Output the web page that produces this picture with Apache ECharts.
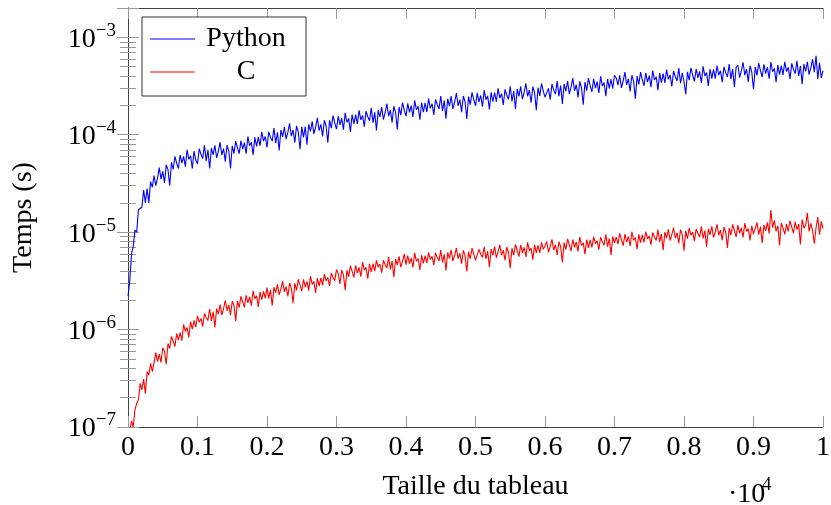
<!DOCTYPE html>
<html>
<head>
<meta charset="utf-8">
<script src="https://cdn.jsdelivr.net/npm/echarts@6/dist/echarts.min.js"></script>
<style>
    html, body { margin: 0; padding: 0; background: #fff; }
    #chart { width: 831px; height: 505px; }
</style>
</head>
<body>
<div id="chart"></div>
<script>
// pas entre deux tailles de tableau mesurees
var PAS = 25;

// temps mesures, en microsecondes (un point tous les PAS elements, de 0 a 10000)
var pythonUs = [2.2, 3.1, 6.0, 7.1, 10.5, 10, 17, 17.5, 18, 27,
    20, 28, 20, 33, 29, 38, 30, 36, 46, 35,
    42, 32, 49, 44, 30, 52, 44, 60, 51, 45,
    62, 51, 60, 47, 70, 56, 61, 45, 68, 55,
    50, 72, 63, 57, 78, 54, 70, 45, 73, 62,
    78, 58, 68, 84, 62, 72, 53, 78, 68, 45,
    77, 64, 86, 73, 64, 87, 71, 83, 64, 96,
    77, 84, 62, 94, 76, 95, 77, 107, 86, 96,
    74, 107, 94, 86, 117, 82, 106, 69, 112, 95,
    120, 90, 106, 131, 97, 112, 83, 123, 107, 71,
    121, 94, 121, 79, 128, 108, 137, 102, 120, 149,
    110, 128, 96, 141, 123, 83, 141, 117, 157, 132,
    114, 155, 126, 148, 113, 168, 134, 147, 107, 161,
    129, 161, 129, 178, 142, 158, 121, 175, 153, 139,
    189, 133, 170, 111, 179, 152, 192, 143, 169, 209,
    155, 179, 133, 196, 170, 113, 193, 159, 214, 179,
    155, 210, 170, 199, 152, 225, 180, 196, 143, 214,
    171, 212, 171, 235, 187, 208, 160, 231, 203, 184,
    250, 175, 224, 146, 234, 197, 249, 184, 217, 268,
    198, 229, 170, 250, 217, 145, 246, 203, 272, 229,
    198, 269, 217, 253, 194, 287, 229, 250, 182, 273,
    218, 271, 218, 299, 238, 264, 202, 292, 256, 231,
    315, 220, 281, 183, 295, 248, 313, 232, 273, 336,
    248, 287, 213, 312, 270, 179, 305, 251, 336, 281,
    243, 269, 299, 229, 331, 289, 261, 356, 249, 319,
    207, 333, 281, 355, 263, 310, 381, 282, 326, 241,
    353, 305, 203, 346, 284, 381, 319, 276, 374, 301,
    351, 268, 397, 316, 344, 249, 374, 299, 371, 298,
    408, 383, 323, 408, 303, 357, 439, 325, 376, 278,
    408, 353, 235, 400, 329, 440, 369, 318, 432, 347,
    405, 308, 457, 364, 395, 286, 429, 342, 424, 341,
    466, 370, 410, 313, 452, 394, 356, 484, 338, 431,
    352, 261, 443, 364, 487, 408, 352, 476, 383, 447,
    340, 504, 401, 436, 316, 473, 377, 468, 376, 514,
    409, 453, 346, 498, 434, 392, 532, 371, 473, 307,
    493, 520, 385, 452, 555, 409, 473, 349, 511, 440,
    293, 496, 407, 544, 454, 391, 529, 425, 495, 376,
    557, 443, 480, 347, 520, 414, 513, 411, 561, 445,
    491, 375, 540, 470, 424, 575, 401, 510, 331, 531,
    447, 561, 414, 486, 596, 439, 645, 373, 546, 383,
    456];

var cUs = [0.07, 0.09, 0.115, 0.10, 0.15, 0.175, 0.19, 0.28, 0.24, 0.31,
    0.22, 0.37, 0.34, 0.45, 0.37, 0.46, 0.58, 0.47, 0.56, 0.46,
    0.65, 0.60, 0.44, 0.72, 0.64, 0.85, 0.76, 0.67, 0.91, 0.78,
    0.93, 0.77, 1.13, 0.96, 1.05, 0.83, 1.21, 1.01, 1.24, 1.06,
    1.38, 1.19, 1.30, 1.07, 1.46, 1.33, 1.24, 1.62, 1.23, 1.52,
    1.05, 1.64, 1.44, 1.80, 1.41, 1.65, 1.98, 1.56, 1.79, 1.41,
    1.96, 1.76, 1.22, 1.97, 1.68, 2.20, 1.93, 1.69, 2.25, 1.88,
    2.18, 1.76, 2.50, 2.07, 2.22, 1.71, 2.44, 2.03, 2.47, 2.09,
    2.70, 2.09, 2.55, 1.76, 2.72, 2.38, 2.92, 2.27, 2.62, 3.12,
    2.44, 2.77, 2.19, 3.01, 2.68, 1.86, 2.98, 2.53, 3.28, 2.86,
    2.48, 3.27, 2.73, 3.12, 2.51, 3.53, 2.91, 3.11, 2.38, 3.38,
    2.79, 3.39, 2.86, 3.70, 3.16, 3.43, 2.81, 3.79, 3.42, 3.18,
    4.13, 3.73, 2.94, 4.08, 3.64, 2.54, 4.07, 3.48, 4.52, 3.95,
    3.44, 4.55, 3.79, 4.35, 3.49, 4.94, 4.06, 4.36, 3.33, 4.74,
    3.92, 4.74, 3.98, 5.13, 4.36, 4.71, 3.83, 5.15, 4.63, 4.30,
    5.55, 4.16, 5.05, 3.45, 5.30, 4.61, 5.66, 4.37, 5.04, 5.96,
    4.65, 5.73, 4.76, 5.45, 4.35, 6.13, 5.02, 5.37, 4.09, 5.80,
    4.77, 5.75, 4.82, 6.18, 5.24, 5.64, 4.58, 6.13, 5.50, 5.08,
    6.55, 4.90, 5.93, 4.04, 6.19, 5.37, 6.58, 5.06, 5.82, 6.88,
    5.35, 6.06, 4.74, 6.50, 5.75, 3.96, 6.31, 5.33, 6.87, 5.95,
    5.13, 4.97, 6.65, 5.96, 5.50, 7.08, 5.30, 6.40, 4.36, 6.69,
    5.80, 7.10, 5.46, 6.28, 7.42, 5.77, 6.53, 5.12, 7.01, 6.22,
    4.28, 6.84, 5.79, 7.48, 6.48, 5.61, 7.39, 6.12, 7.00, 5.58,
    7.85, 6.43, 6.86, 5.22, 7.39, 6.08, 7.32, 6.13, 7.87, 6.66,
    7.18, 8.04, 6.19, 7.13, 8.42, 6.56, 7.43, 5.83, 8.00, 7.10,
    4.90, 7.81, 6.61, 8.53, 7.39, 6.39, 8.41, 6.97, 7.96, 6.35,
    8.93, 7.31, 7.80, 5.94, 8.40, 6.91, 8.33, 6.98, 8.95, 7.59,
    8.16, 6.63, 8.87, 7.96, 7.35, 9.48, 7.09, 8.59, 5.85, 8.99,
    7.79, 8.89, 7.52, 9.70, 8.40, 7.26, 9.55, 7.91, 9.03, 7.20,
    10.1, 8.27, 8.82, 6.70, 9.48, 7.79, 9.37, 7.84, 10.1, 8.51,
    9.15, 7.43, 9.93, 8.91, 8.22, 10.6, 7.93, 9.59, 6.54, 10.0,
    8.69, 10.7, 8.21, 9.45, 11.1, 8.68, 9.83, 7.71, 10.6, 9.38,
    6.46, 10.3, 8.60, 11.0, 9.31, 10.0, 8.11, 10.8, 9.70, 8.94,
    11.5, 8.61, 10.4, 7.08, 10.8, 9.39, 11.5, 8.84, 10.1, 12.0,
    9.30, 10.5, 8.25, 11.3, 10.0, 6.90, 11.0, 9.29, 12.0, 10.4,
    8.96, 11.8, 9.74, 11.1, 8.86, 12.4, 10.2, 10.8, 8.22, 11.6,
    9.54, 9.78, 12.6, 9.41, 11.4, 7.74, 11.9, 10.3, 12.6, 9.67,
    16.9, 11.1, 13.2, 10.2, 11.6, 7.3, 12.4, 11.0, 9.47, 12.1,
    10.2, 13.1, 11.3, 9.79, 12.8, 10.6, 12.1, 7.46, 13.5, 11.0,
    11.7, 15.7, 10.2, 12.3, 10.3, 7.6, 11.1, 14.3, 9.4, 12.9,
    10.9];

// etiquettes de l'axe x (en unites de 10^4)
var xLabels = ['0', '0.1', '0.2', '0.3', '0.4', '0.5', '0.6', '0.7', '0.8', '0.9', '1'];
// exposants des graduations de l'axe y
var yExposants = [-7, -6, -5, -4, -3];

var FONT = '"Liberation Serif", "Times New Roman", serif';
var AXE = { color: '#444', width: 1 };
var TICK = { color: '#999', width: 1 };

// construit les points [taille, secondes]
function points(valeurs) {
    return valeurs.map(function (v, i) {
        return [i * PAS, v * 1e-6];
    });
}

function axeX(position) {
    var a = {
        type: 'value',
        position: position,
        min: 0,
        max: 10000,
        interval: 1000,
        axisLine: { show: true, lineStyle: AXE },
        axisTick: { show: true, inside: true, length: 11, lineStyle: TICK },
        splitLine: { show: false },
        axisLabel: {
            show: position === 'bottom',
            margin: 7,
            fontFamily: FONT,
            fontSize: 28,
            color: '#000',
            formatter: function (v) { return xLabels[Math.round(v / 1000)]; }
        }
    };
    if (position === 'bottom') {
        a.name = 'Taille du tableau';
        a.nameLocation = 'middle';
        a.nameGap = 46;
        a.nameTextStyle = { fontFamily: FONT, fontSize: 28, color: '#000' };
    }
    return a;
}

function axeY(position) {
    var a = {
        type: 'log',
        logBase: 10,
        position: position,
        min: 1e-7,
        max: 2e-3,
        interval: 1,
        axisLine: { show: true, lineStyle: AXE },
        axisTick: { show: true, inside: true, length: 11, lineStyle: TICK },
        minorTick: { show: true, splitNumber: 9, length: 8, lineStyle: TICK },
        splitLine: { show: false },
        minorSplitLine: { show: false },
        axisLabel: {
            show: position === 'left',
            margin: 12,
            showMaxLabel: false,
            formatter: function (v) {
                var e = Math.round(Math.log(v) / Math.LN10);
                if (yExposants.indexOf(e) < 0 || Math.abs(v / Math.pow(10, e) - 1) > 1e-6) return '';
                return '{b|10}{e|\u2212' + (-e) + '}';
            },
            rich: {
                b: { fontFamily: FONT, fontSize: 28, color: '#000', lineHeight: 32, verticalAlign: 'bottom' },
                e: { fontFamily: FONT, fontSize: 19, color: '#000', lineHeight: 19, verticalAlign: 'top' }
            }
        }
    };
    if (position === 'left') {
        a.name = 'Temps (s)';
        a.nameLocation = 'middle';
        a.nameGap = 90;
        a.nameRotate = 90;
        a.nameTextStyle = { fontFamily: FONT, fontSize: 28, color: '#000' };
    }
    return a;
}

var chart = echarts.init(document.getElementById('chart'), null, { renderer: 'canvas' });

var option = {
    animation: false,
    backgroundColor: '#fff',
    grid: { left: 128, right: 8, top: 8, bottom: 78, outerBoundsMode: 'none', containLabel: false },
    legend: {
        data: [{ name: 'Python', icon: 'rect' }, { name: 'C', icon: 'rect' }],
        orient: 'vertical',
        left: 142,
        top: 17,
        padding: [8, 14, 10, 8],
        itemGap: 5,
        itemWidth: 45,
        itemHeight: 1.2,
        backgroundColor: '#fff',
        borderColor: '#333',
        borderWidth: 1,
        borderRadius: 0,
        formatter: '{a|{name}}',
        textStyle: {
            fontFamily: FONT,
            fontSize: 28,
            color: '#000',
            rich: { a: { fontFamily: FONT, fontSize: 28, width: 92, align: 'center', lineHeight: 30 } }
        }
    },
    xAxis: [axeX('bottom'), axeX('top')],
    yAxis: [axeY('left'), axeY('right')],
    series: [
        {
            name: 'Python',
            type: 'line',
            data: points(pythonUs),
            symbol: 'none',
            lineStyle: { color: '#0000ff', width: 1.1 },
            itemStyle: { color: '#0000ff' }
        },
        {
            name: 'C',
            type: 'line',
            data: points(cUs),
            symbol: 'none',
            lineStyle: { color: '#ff0000', width: 1.1 },
            itemStyle: { color: '#ff0000' }
        }
    ],
    graphic: [
        { type: 'text', left: 728, top: 481, style: { text: '\u00b710', font: '28px ' + FONT, fill: '#000' } },
        { type: 'text', left: 762, top: 476, style: { text: '4', font: '19px ' + FONT, fill: '#000' } }
    ]
};

chart.setOption(option);
</script>
</body>
</html>
